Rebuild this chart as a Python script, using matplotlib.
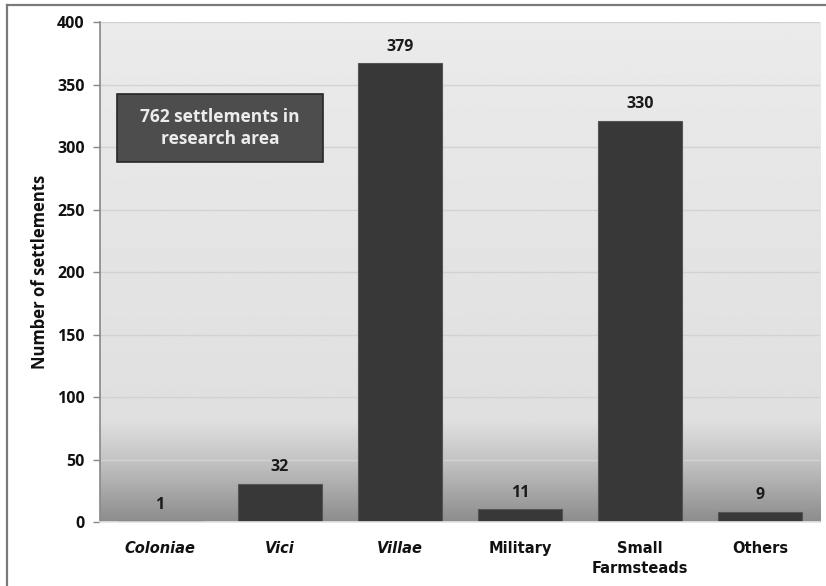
import numpy as np
import matplotlib
matplotlib.use("Agg")
import matplotlib.pyplot as plt
from matplotlib.patches import Rectangle
from matplotlib.lines import Line2D

categories = ["Coloniae", "Vici", "Villae", "Military", "Small\nFarmsteads", "Others"]
italic_cats = [True, True, True, False, False, False]
# bar heights as drawn in the figure, and the numbers printed above them
bar_heights = [1, 31, 367, 10.5, 321, 8.5]
bar_labels = ["1", "32", "379", "11", "330", "9"]
y_ticks = [0, 50, 100, 150, 200, 250, 300, 350, 400]
box_text = "762 settlements in\nresearch area"

num_font = "Open Sans"
cat_font = "DejaVu Sans"

fig = plt.figure(figsize=(8.26, 5.86), dpi=100)
ax = fig.add_axes([0.121, 0.1084, 0.872, 0.854])

# background gradient (light grey, darkening towards the bottom)
yy = np.linspace(0, 400, 400)
shade = np.interp(yy, [0, 25, 50, 80, 400], [0.55, 0.66, 0.77, 0.875, 0.92])
ax.imshow(shade[:, None], cmap="gray", vmin=0, vmax=1, origin="lower",
          extent=(-0.5, 5.5, 0, 400), aspect="auto", zorder=0,
          interpolation="bilinear")

x = np.arange(len(categories))
ax.bar(x, bar_heights, width=0.7, color="#383838", edgecolor="#555555",
       linewidth=0.8, zorder=2)

for xi, h, lab in zip(x, bar_heights, bar_labels):
    ax.annotate(lab, (xi, h), xytext=(0, 12), textcoords="offset points",
                ha="center", va="center", fontsize=11.5, fontweight="bold",
                family=num_font, color="#1a1a1a", zorder=3)

ax.set_xlim(-0.5, 5.5)
ax.set_ylim(0, 400)
ax.set_yticks(y_ticks)
ax.set_yticklabels([str(t) for t in y_ticks], fontsize=11.5, fontweight="bold",
                   family=num_font, color="#111111")
ax.set_xticks(x)
ax.set_xticklabels(categories, fontsize=10.5, fontweight="bold", family=cat_font,
                   color="#111111", va="top", linespacing=1.45)
for lbl, it in zip(ax.get_xticklabels(), italic_cats):
    if it:
        lbl.set_style("italic")
ax.tick_params(axis="x", length=0, pad=13)
ax.tick_params(axis="y", length=5, color="#888888", width=1, pad=6)

ax.yaxis.grid(True, color="#d2d2d2", linewidth=1)
ax.set_axisbelow(True)
for s in ["top", "right"]:
    ax.spines[s].set_visible(False)
ax.spines["left"].set_color("#888888")
ax.spines["left"].set_linewidth(1.2)
ax.spines["bottom"].set_color("#e4e4e4")
ax.spines["bottom"].set_linewidth(1.2)

ax.set_ylabel("Number of settlements", fontsize=12, fontweight="bold",
              family=num_font, color="#111111", labelpad=6)

# annotation box
ax.add_patch(Rectangle((0.0236, 0.721), 0.2864, 0.136, transform=ax.transAxes,
                       facecolor="#4d4d4d", edgecolor="#262626", linewidth=1.2,
                       zorder=4))
ax.text(0.167, 0.789, box_text, transform=ax.transAxes, ha="center",
        va="center", fontsize=12.5, fontweight="bold", family=num_font,
        color="#ececec", linespacing=1.3, zorder=5)

# outer frame (top and left edges visible)
fig.add_artist(Line2D([7 / 826, 1], [1 - 5 / 586, 1 - 5 / 586],
                      transform=fig.transFigure, color="#7a7a7a", linewidth=1.6))
fig.add_artist(Line2D([7 / 826, 7 / 826], [0, 1 - 5 / 586],
                      transform=fig.transFigure, color="#7a7a7a", linewidth=1.6))

fig.savefig("out.png", dpi=100)
